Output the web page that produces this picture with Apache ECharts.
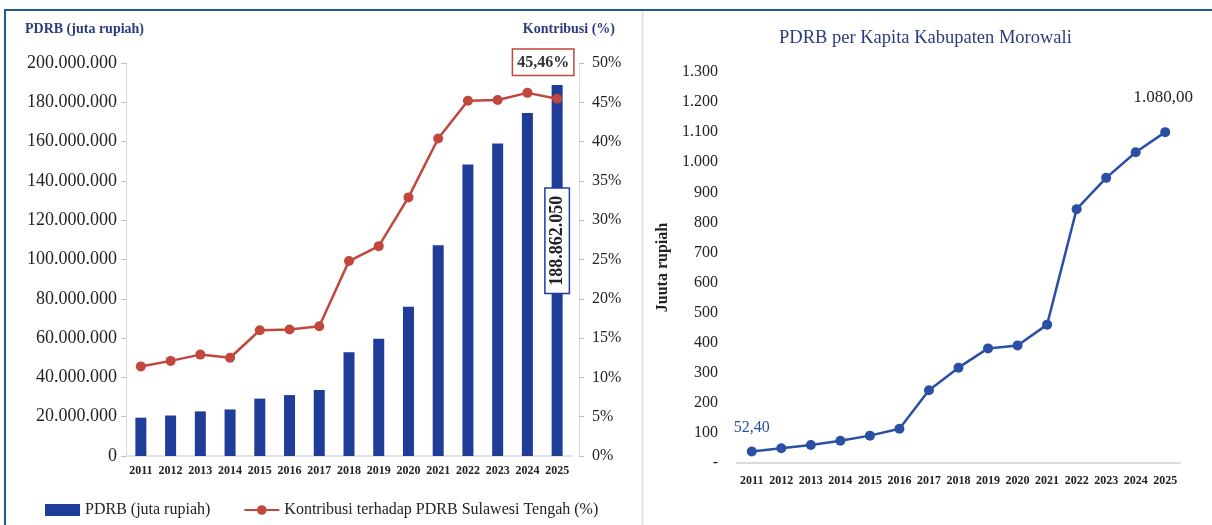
<!DOCTYPE html>
<html>
<head>
<meta charset="utf-8">
<script src="https://cdn.jsdelivr.net/npm/echarts@6/dist/echarts.min.js"></script>
<style>html,body{margin:0;padding:0;background:#fff}#c{width:1212px;height:525px}</style>
</head>
<body>
<div id="c"></div>
<script>
// ---- data ----
var years = ['2011','2012','2013','2014','2015','2016','2017','2018','2019','2020','2021','2022','2023','2024','2025'];
var pdrb = [19500000, 20600000, 22700000, 23700000, 29200000, 31000000, 33600000, 52800000, 59700000, 76000000, 107300000, 148300000, 159000000, 174600000, 188862050];
var kontribusi = [11.4, 12.1, 12.9, 12.5, 16.0, 16.1, 16.5, 24.8, 26.7, 32.9, 40.4, 45.2, 45.3, 46.2, 45.46];
var perKapita = [38, 49, 60, 74, 91, 114, 242, 317, 381, 391, 460, 844, 948, 1033, 1100];
var firstLabel = '52,40';
var lastLabel = '1.080,00';
var leftTicks = {min: 0, max: 200000000, interval: 20000000};
var pctTicks = {min: 0, max: 50, interval: 5};
var capTicks = {min: 0, max: 1300, interval: 100};

var SERIF = '"Liberation Serif","DejaVu Serif",serif';
var NAVY = '#2b3b7e';
var BAR = '#1f3c99';
var RED = '#c1463c';
var LINE2 = '#2a4fa5';

function dots(v){ return String(Math.round(v)).replace(/\B(?=(\d{3})+(?!\d))/g, '.'); }

var chart = echarts.init(document.getElementById('c'), null, {renderer: 'canvas'});

var barData = pdrb.map(function(v, i){
  if (i === pdrb.length - 1) {
    return {value: v, label: {
      show: true, position: ['50%', '42%'], rotate: 90, align: 'center', verticalAlign: 'middle',
      formatter: function(p){ return dots(p.value); },
      backgroundColor: '#fff', borderColor: BAR, borderWidth: 1.5, padding: [3, 7, 2, 7],
      color: '#222', fontFamily: SERIF, fontSize: 18, fontWeight: 'bold'
    }};
  }
  return v;
});
var lineData = kontribusi.map(function(v, i){
  if (i === kontribusi.length - 1) {
    return {value: v, label: {
      show: true, position: 'top', offset: [-14, -14],
      formatter: function(p){ return String(p.value).replace('.', ',') + '%'; },
      backgroundColor: '#fff', borderColor: RED, borderWidth: 1.5, padding: [5, 4, 4, 4],
      color: '#333', fontFamily: SERIF, fontSize: 16, fontWeight: 'bold'
    }};
  }
  return v;
});
var capData = perKapita.map(function(v, i){
  if (i === 0) {
    return {value: v, label: {show: true, position: 'top', offset: [0, -6], formatter: firstLabel,
      color: LINE2, fontFamily: SERIF, fontSize: 16}};
  }
  if (i === perKapita.length - 1) {
    return {value: v, label: {show: true, position: 'top', offset: [-2, -16], formatter: lastLabel,
      color: '#222', fontFamily: SERIF, fontSize: 17}};
  }
  return v;
});

var option = {
  backgroundColor: '#fff',
  animation: false,
  textStyle: {fontFamily: SERIF},
  graphic: [
    {type: 'rect', shape: {x: 4, y: 9, width: 1208, height: 2}, style: {fill: '#1d5f8a'}, silent: true},
    {type: 'rect', shape: {x: 4, y: 9, width: 2, height: 516}, style: {fill: '#1d5f8a'}, silent: true},
    {type: 'rect', shape: {x: 641, y: 11, width: 3, height: 514}, style: {fill: '#ebebeb'}, silent: true}
  ],
  title: [
    {text: 'PDRB (juta rupiah)', left: 25, top: 22, padding: 0,
      textStyle: {color: NAVY, fontFamily: SERIF, fontSize: 14, fontWeight: 'bold'}},
    {text: 'Kontribusi (%)', right: 597, top: 22, padding: 0,
      textStyle: {color: NAVY, fontFamily: SERIF, fontSize: 14, fontWeight: 'bold'}},
    {text: 'PDRB per Kapita Kabupaten Morowali', left: 779, top: 29, padding: 0,
      textStyle: {color: NAVY, fontFamily: SERIF, fontSize: 18.5, fontWeight: 'normal'}}
  ],
  legend: {
    left: 40, top: 497, itemWidth: 35, itemHeight: 12, itemGap: 33,
    textStyle: {color: '#222', fontFamily: SERIF, fontSize: 16},
    data: [
      {name: 'PDRB (juta rupiah)', icon: 'rect'},
      {name: 'Kontribusi terhadap PDRB Sulawesi Tengah (%)'}
    ]
  },
  grid: [
    {left: 126, right: 640, top: 63, bottom: 69},
    {left: 737, right: 32, top: 72, bottom: 62}
  ],
  xAxis: [
    {type: 'category', gridIndex: 0, data: years, boundaryGap: true,
      axisLine: {lineStyle: {color: '#d9d9d9', width: 1.5}}, axisTick: {show: false},
      axisLabel: {color: '#222', fontFamily: SERIF, fontSize: 12, fontWeight: 'bold', margin: 9, interval: 0}},
    {type: 'category', gridIndex: 1, data: years, boundaryGap: true,
      axisLine: {lineStyle: {color: '#d9d9d9', width: 2}}, axisTick: {show: false},
      axisLabel: {color: '#222', fontFamily: SERIF, fontSize: 12, fontWeight: 'bold', margin: 12, interval: 0}}
  ],
  yAxis: [
    {type: 'value', gridIndex: 0, position: 'left', min: leftTicks.min, max: leftTicks.max, interval: leftTicks.interval,
      axisLine: {show: true, lineStyle: {color: '#d9d9d9'}},
      axisTick: {show: true, length: 5, lineStyle: {color: '#bfbfbf'}},
      splitLine: {show: false},
      axisLabel: {color: '#222', fontFamily: SERIF, fontSize: 18, margin: 9, formatter: function(v){ return dots(v); }}},
    {type: 'value', gridIndex: 0, position: 'right', offset: 7, min: pctTicks.min, max: pctTicks.max, interval: pctTicks.interval,
      axisLine: {show: true, lineStyle: {color: '#d9d9d9'}},
      axisTick: {show: true, length: 5, lineStyle: {color: '#bfbfbf'}},
      splitLine: {show: false},
      axisLabel: {color: '#222', fontFamily: SERIF, fontSize: 16, margin: 13, formatter: function(v){ return v + '%'; }}},
    {type: 'value', gridIndex: 1, min: capTicks.min, max: capTicks.max, interval: capTicks.interval,
      name: 'Juuta rupiah', nameLocation: 'middle', nameRotate: 90, nameGap: 66,
      nameTextStyle: {color: '#222', fontFamily: SERIF, fontSize: 16, fontWeight: 'bold'},
      axisLine: {show: false}, axisTick: {show: false}, splitLine: {show: false},
      axisLabel: {color: '#222', fontFamily: SERIF, fontSize: 16, margin: 19,
        formatter: function(v){ return v === 0 ? '-' : dots(v); }}}
  ],
  series: [
    {name: 'PDRB (juta rupiah)', type: 'bar', xAxisIndex: 0, yAxisIndex: 0, data: barData,
      barWidth: 11, itemStyle: {color: BAR}, z: 2},
    {name: 'Kontribusi terhadap PDRB Sulawesi Tengah (%)', type: 'line', xAxisIndex: 0, yAxisIndex: 1, data: lineData,
      symbol: 'circle', symbolSize: 10, lineStyle: {color: RED, width: 2.5}, itemStyle: {color: RED}, z: 3},
    {name: 'PDRB per Kapita', type: 'line', xAxisIndex: 1, yAxisIndex: 2, data: capData,
      symbol: 'circle', symbolSize: 10, lineStyle: {color: LINE2, width: 2.5}, itemStyle: {color: LINE2}}
  ]
};
chart.setOption(option);
</script>
</body>
</html>
